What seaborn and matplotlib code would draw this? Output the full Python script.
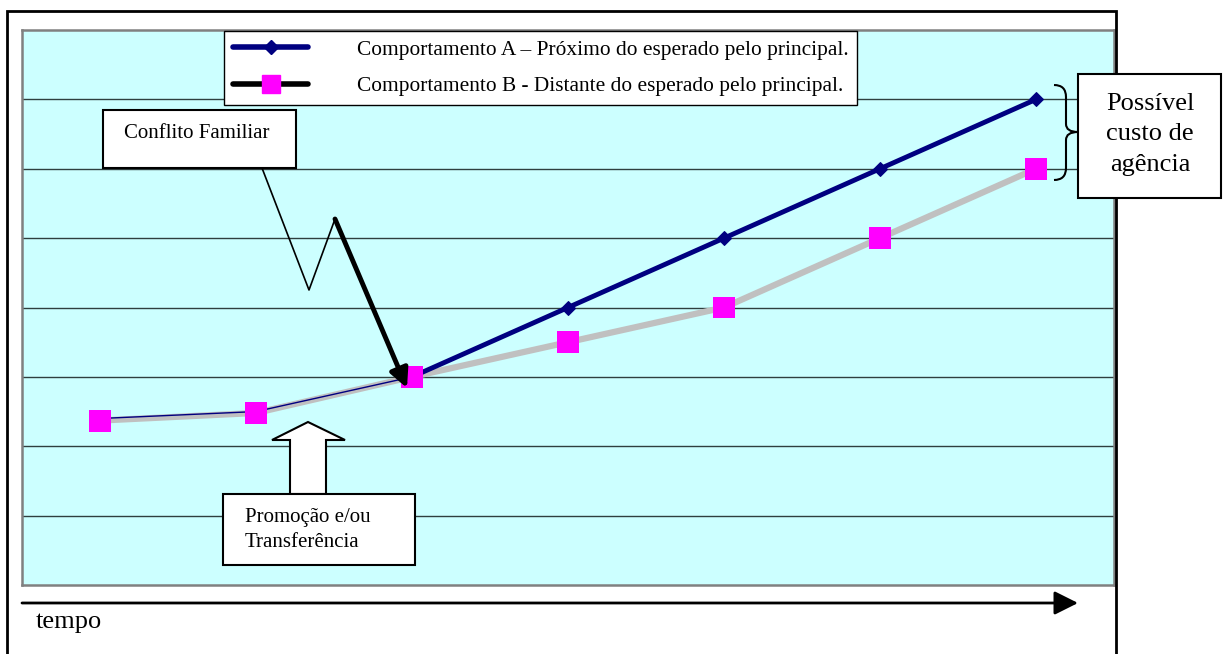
import matplotlib
matplotlib.use("Agg")
import matplotlib.pyplot as plt
from matplotlib.lines import Line2D
from matplotlib.patches import Rectangle, Polygon, PathPatch
from matplotlib.path import Path
import seaborn as sns

# dados (eixo y de 0 a 8, sem rotulos)
tempo = [1, 2, 3, 4, 5, 6, 7]
comportamento_a = [2.4, 2.5, 3.0, 4.0, 5.0, 6.0, 7.0]
comportamento_b = [2.37, 2.48, 3.0, 3.5, 4.0, 5.0, 6.0]
legenda = ['Comportamento A \u2013 Próximo do esperado pelo principal.',
           'Comportamento B - Distante do esperado pelo principal.']

sns.set_style('white')
plt.rcParams['font.family'] = ['Liberation Serif', 'DejaVu Serif']
plt.rcParams['text.color'] = 'black'

W, H = 1224, 654
fig = plt.figure(figsize=(W / 100, H / 100), dpi=100)

# area do grafico em pixels: x 22..1114, y 30..585
ax = fig.add_axes([22 / W, 1 - 585 / H, (1114 - 22) / W, (585 - 30) / H])
ax.set_facecolor('#ccffff')

navy = '#000080'
cinza = '#c0c0c0'
rosa = '#ff00ff'

sns.lineplot(x=tempo, y=comportamento_b, color=cinza, lw=4.5, ax=ax, zorder=2)
sns.lineplot(x=tempo[:3], y=comportamento_a[:3], color=navy, lw=1, ax=ax, zorder=3)
sns.lineplot(x=tempo[2:], y=comportamento_a[2:], color=navy, lw=3.5, marker='D',
             markersize=7, markeredgecolor=navy, ax=ax, zorder=3)
sns.scatterplot(x=tempo, y=comportamento_b, marker='s', s=250, color=rosa,
                edgecolor='none', ax=ax, zorder=5)

ax.set_xlim(0.5, 7.5)
ax.set_ylim(0, 8)
ax.set_yticks(range(1, 8))
ax.set_yticklabels([])
ax.tick_params(axis='y', length=0)
ax.set_xticks([k + 0.5 for k in range(8)])
ax.set_xticklabels([])
ax.tick_params(axis='x', direction='out', length=4, width=1.5, color='#808080')
ax.grid(axis='y', color='#2f3f3f', lw=1)
ax.set_axisbelow(True)
for s in ax.spines.values():
    s.set_visible(True)
    s.set_color('#808080')
    s.set_linewidth(1.8)
ax.set_xlabel('')
ax.set_ylabel('')

h_a = Line2D([], [], color=navy, lw=4, marker='D', markersize=7)
h_b = Line2D([], [], color='black', lw=4, marker='s', markersize=13,
             markerfacecolor=rosa, markeredgecolor=rosa)
leg = fig.legend([h_a, h_b], legenda, loc='upper left',
                 bbox_to_anchor=(224 / W, 1 - 31 / H), bbox_transform=fig.transFigure,
                 fontsize=15.4, frameon=True, fancybox=False, edgecolor='black',
                 framealpha=1, borderaxespad=0, borderpad=0.4, handlelength=3.55,
                 handletextpad=2.25, labelspacing=0.78)
leg.get_frame().set_linewidth(1)

# camada de anotacoes em pixels
ov = fig.add_axes([0, 0, 1, 1], zorder=10)
ov.set_xlim(0, W)
ov.set_ylim(H, 0)
ov.axis('off')
ov.patch.set_alpha(0)

# moldura externa
ov.plot([7, 7, 1116, 1116], [H, 11, 11, H], color='black', lw=2,
        solid_joinstyle='miter', zorder=1)

# caixa "Conflito Familiar" e seta em zigue-zague
ov.add_patch(Rectangle((103, 110), 193, 58, facecolor='white', edgecolor='black',
                       lw=1.5, zorder=3))
ov.text(124, 133, 'Conflito Familiar', fontsize=15, va='center', ha='left', zorder=4)
ov.plot([262, 309, 335], [168, 290, 219], color='black', lw=1.2, zorder=4)
ov.annotate('', xy=(407, 388), xytext=(335, 219),
            arrowprops=dict(arrowstyle='-|>', lw=3.5, color='black', mutation_scale=28,
                            shrinkA=0, shrinkB=0), zorder=4)

# seta de bloco e caixa "Promocao"
ov.add_patch(Polygon([(290, 494), (290, 440), (272, 440), (308, 422), (345, 440),
                      (326, 440), (326, 494)], closed=True, facecolor='white',
                     edgecolor='black', lw=1.5, zorder=3))
ov.add_patch(Rectangle((223, 494), 192, 71, facecolor='white', edgecolor='black',
                       lw=1.5, zorder=3))
ov.text(245, 530, 'Promoção e/ou\nTransferência', fontsize=15, va='center', ha='left',
        linespacing=1.45, zorder=4)

# chave e caixa "Possivel custo de agencia"
chave = Path([(1054, 85), (1066, 85), (1066, 97), (1066, 124), (1066, 132), (1078, 132),
              (1066, 132), (1066, 140), (1066, 168), (1066, 180), (1054, 180)],
             [Path.MOVETO, Path.CURVE3, Path.CURVE3, Path.LINETO, Path.CURVE3, Path.CURVE3,
              Path.CURVE3, Path.CURVE3, Path.LINETO, Path.CURVE3, Path.CURVE3])
ov.add_patch(PathPatch(chave, facecolor='none', edgecolor='black', lw=1.5, zorder=3))
ov.add_patch(Rectangle((1078, 74), 143, 124, facecolor='white', edgecolor='black',
                       lw=1.5, zorder=3))
ov.text(1150, 134, 'Possível\ncusto de\nagência', fontsize=19, va='center', ha='center',
        linespacing=1.5, zorder=4)

# eixo do tempo
ov.annotate('', xy=(1078, 603), xytext=(22, 603),
            arrowprops=dict(arrowstyle='-|>', lw=2, color='black', mutation_scale=36,
                            shrinkA=0, shrinkB=0))
ov.text(36, 622, 'tempo', fontsize=19, va='center', ha='left')

fig.savefig('out.png', dpi=100)
